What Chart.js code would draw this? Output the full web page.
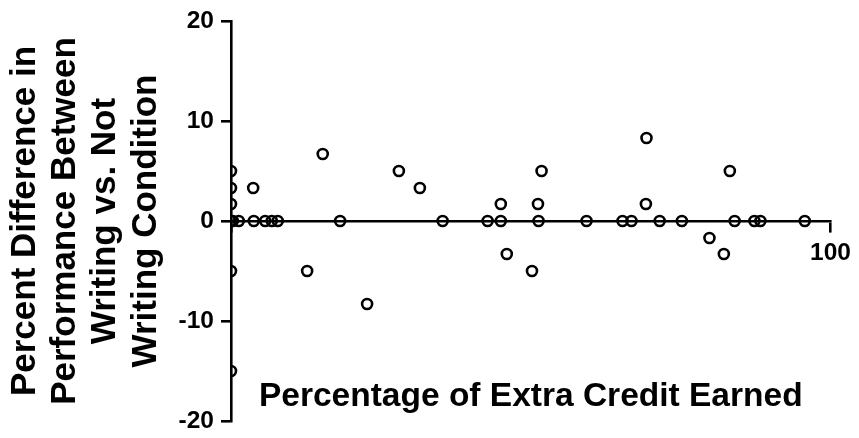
<!DOCTYPE html>
<html>
<head>
<meta charset="utf-8">
<script src="https://cdn.jsdelivr.net/npm/chart.js@4"></script>
<style>
  body { margin: 0; background: #fff; }
  #wrap { width: 859px; height: 438px; position: relative; }
</style>
</head>
<body>
<div id="wrap"><canvas id="c"></canvas></div>
<script>
// ---------- Data ----------
const extraCredit = [0, 0, 0, 0, 0, 0, 0.3, 1.3, 3.8, 5.7, 6.8, 7.8, 3.7,
    12.7, 15.3, 18.2, 22.7, 28, 31.5, 35.3,
    42.8, 45, 45, 46, 50.2, 51.3, 51.2, 51.8, 59.3, 65.3, 66.8, 69.2, 69.3,
    71.5, 75.2, 79.8, 82.2, 83.2, 84, 87.3, 88.3, 95.7];
const pctDiff = [5, 3.3, 1.7, 0, -5, -15, 0, 0, 0, 0, 0, 0, 3.3,
    -5, 6.7, 0, -8.3, 5, 3.3, 0,
    0, 0, 1.7, -3.3, -5, 0, 1.7, 5, 0, 0, 0, 1.7, 8.3,
    0, 0, -1.7, -3.3, 5, 0, 0, 0, 0];
const yTicks = [-20, -10, 0, 10, 20];
const xTickLabels = ['100'];

const yTitle = ['Percent Difference in', 'Performance Between', 'Writing vs. Not', 'Writing Condition'];
const xTitle = 'Percentage of Extra Credit Earned';

const FONT = "'Liberation Sans', Arial, sans-serif";

// x title sits inside the plot, below the zero line
const xTitlePlugin = {
    id: 'xTitle',
    afterDraw(chart) {
        const { ctx, chartArea } = chart;
        ctx.save();
        ctx.font = 'bold 33.5px ' + FONT;
        ctx.fillStyle = '#000';
        ctx.textAlign = 'center';
        ctx.textBaseline = 'middle';
        ctx.fillText(xTitle, (chartArea.left + chartArea.right) / 2, 397);
        ctx.restore();
    }
};

const points = extraCredit.map((x, i) => ({ x: x, y: pctDiff[i] }));

new Chart(document.getElementById('c').getContext('2d'), {
    type: 'scatter',
    data: {
        datasets: [{
            data: points,
            pointStyle: 'circle',
            pointRadius: 5,
            pointBorderWidth: 2.6,
            pointBorderColor: '#000',
            pointBackgroundColor: 'rgba(0,0,0,0)'
        }]
    },
    options: {
        responsive: true,
        maintainAspectRatio: false,
        animation: false,
        layout: { padding: { left: 0, right: 27, top: 21, bottom: 17 } },
        plugins: { legend: { display: false }, tooltip: { enabled: false } },
        scales: {
            x: {
                type: 'linear',
                position: { y: 0 },
                min: 0,
                max: 100,
                border: { color: '#000', width: 2.6 },
                grid: { drawOnChartArea: false, color: '#000', lineWidth: 2.6, tickLength: 10 },
                afterBuildTicks: s => { s.ticks = [{ value: 0 }, { value: 100 }]; },
                ticks: {
                    color: '#000',
                    padding: 8,
                    maxRotation: 0,
                    font: { family: FONT, size: 24.5, weight: 'bold' },
                    callback: v => v === 100 ? xTickLabels[0] : ''
                }
            },
            y: {
                type: 'linear',
                min: -20,
                max: 20,
                afterFit: s => { s.width = 231; s.paddingTop = 0; s.paddingBottom = 0; },
                afterBuildTicks: s => { s.ticks = yTicks.map(v => ({ value: v })); },
                border: { color: '#000', width: 2.6 },
                grid: { drawOnChartArea: false, color: '#000', lineWidth: 2.6, tickLength: 10 },
                ticks: {
                    color: '#000',
                    padding: 7,
                    font: { family: FONT, size: 24.5, weight: 'bold' }
                },
                title: {
                    display: true,
                    text: yTitle,
                    color: '#000',
                    padding: { top: 5, bottom: 0 },
                    font: { family: FONT, size: 35, weight: 'bold', lineHeight: 1.15 }
                }
            }
        }
    },
    plugins: [xTitlePlugin]
});
</script>
</body>
</html>
